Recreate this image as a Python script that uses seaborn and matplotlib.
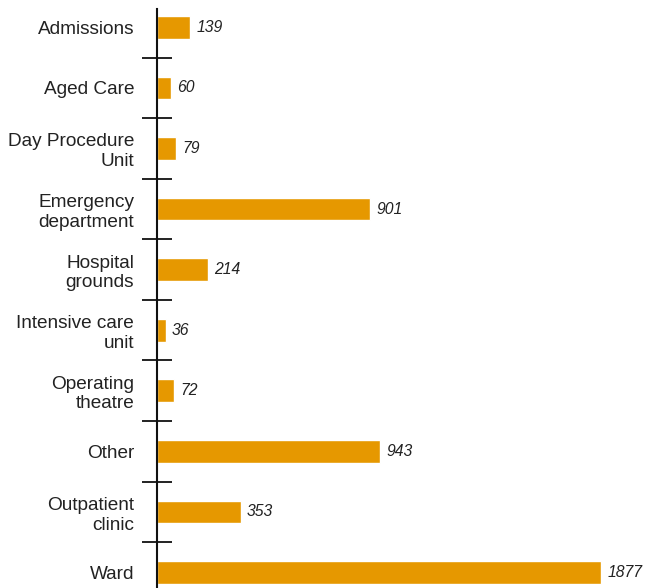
import matplotlib
matplotlib.use("Agg")
import matplotlib.pyplot as plt
from matplotlib import font_manager
import seaborn as sns
import pandas as pd
from matplotlib.ticker import FixedLocator

# Incident counts by hospital location
locations = [
    "Admissions",
    "Aged Care",
    "Day Procedure\nUnit",
    "Emergency\ndepartment",
    "Hospital\ngrounds",
    "Intensive care\nunit",
    "Operating\ntheatre",
    "Other",
    "Outpatient\nclinic",
    "Ward",
]
counts = [139, 60, 79, 901, 214, 36, 72, 943, 353, 1877]

df = pd.DataFrame({"location": locations, "count": counts})

sns.set_style("white")
plt.rcParams["font.family"] = ["Liberation Sans", "DejaVu Sans"]

BAR_COLOR = "#E69800"

# Condensed italic for value labels when available
installed = {f.name for f in font_manager.fontManager.ttflist}
if "Liberation Sans Narrow" in installed:
    value_family, value_size = ["Liberation Sans Narrow", "DejaVu Sans"], 13
else:
    value_family, value_size = ["Liberation Sans", "DejaVu Sans"], 11.3

fig = plt.figure(figsize=(6.45, 5.88), dpi=100)
ax = fig.add_axes([157 / 645, 0, 488 / 645, 578.7 / 588])

sns.barplot(data=df, x="count", y="location", orient="h", color=BAR_COLOR,
            width=0.375, saturation=1, ax=ax)

ax.set_xlim(0, 2063)
ax.set_ylim(9.256, -0.297)

# Value labels at the end of each bar
for i, v in enumerate(counts):
    ax.annotate(f"{v}", xy=(v, i), xytext=(4.5, 0), textcoords="offset points",
                ha="left", va="center", fontsize=value_size, style="italic",
                family=value_family, color="#222222")

# Axis styling: only the left spine, separator ticks between categories
for side in ["top", "right", "bottom"]:
    ax.spines[side].set_visible(False)
ax.spines["left"].set_linewidth(1.5)
ax.spines["left"].set_color("#111111")

ax.set_xticks([])
ax.set_xlabel("")
ax.set_ylabel("")
ax.tick_params(axis="y", which="major", left=False, length=0, pad=16.5,
               labelsize=13.7, labelcolor="#222222")
ax.yaxis.set_minor_locator(FixedLocator([i + 0.5 for i in range(len(locations) - 1)]))
ax.tick_params(axis="y", which="minor", left=True, direction="inout", length=22,
               width=1.3, color="#111111")
for t in ax.get_yticklabels():
    t.set_linespacing(1.2)
    t.set_horizontalalignment("right")

fig.savefig("out.png", dpi=100)
